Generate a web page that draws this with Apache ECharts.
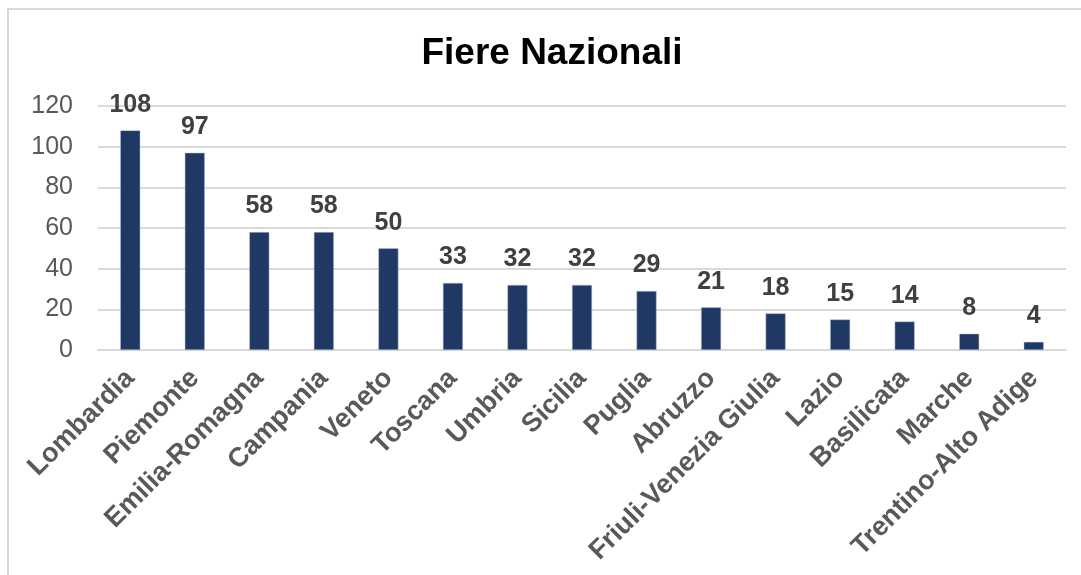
<!DOCTYPE html>
<html>
<head>
<meta charset="utf-8">
<script src="https://cdn.jsdelivr.net/npm/echarts@6/dist/echarts.min.js"></script>
<style>
html,body{margin:0;padding:0;background:#fff;}
#chart{width:1081px;height:575px;}
</style>
</head>
<body>
<div id="chart"></div>
<script>
const categories = ["Lombardia","Piemonte","Emilia-Romagna","Campania","Veneto","Toscana","Umbria","Sicilia","Puglia","Abruzzo","Friuli-Venezia Giulia","Lazio","Basilicata","Marche","Trentino-Alto Adige"];
const values = [108,97,58,58,50,33,32,32,29,21,18,15,14,8,4];
const yTicks = [0,20,40,60,80,100,120];

const chart = echarts.init(document.getElementById('chart'), null, {renderer:'canvas'});
chart.setOption({
  animation:false,
  backgroundColor:'#ffffff',
  graphic:[{
    type:'rect',
    shape:{x:8,y:9,width:1200,height:700},
    style:{fill:'none',stroke:'#d9d9d9',lineWidth:2},
    silent:true, z:-1
  }],
  title:{
    text:'Fiere Nazionali',
    left:547, top:30, textAlign:'center',
    textStyle:{fontFamily:'Liberation Sans',fontSize:37,fontWeight:'bold',color:'#000'}
  },
  grid:{left:98,right:15,top:106,bottom:225,containLabel:false},
  xAxis:{
    type:'category',
    data:categories,
    axisLine:{lineStyle:{color:'#d9d9d9',width:2}},
    axisTick:{show:false},
    axisLabel:{
      rotate:45, interval:0, margin:24,
      fontFamily:'Liberation Sans',fontSize:27,fontWeight:'bold',color:'#595959'
    }
  },
  yAxis:{
    type:'value',
    min:yTicks[0], max:yTicks[yTicks.length-1], interval:20,
    axisLine:{show:false},
    axisTick:{show:false},
    splitLine:{lineStyle:{color:'#d9d9d9',width:2}},
    axisLabel:{margin:25,fontFamily:'Liberation Sans',fontSize:25,color:'#595959'}
  },
  series:[{
    type:'bar',
    data:values,
    barWidth:20,
    itemStyle:{color:'#1f3864',borderColor:'#b4c0d8',borderWidth:0.5},
    label:{
      show:true,position:'top',distance:13,
      fontFamily:'Liberation Sans',fontSize:25,fontWeight:'bold',color:'#404040'
    }
  }]
});
</script>
</body>
</html>
